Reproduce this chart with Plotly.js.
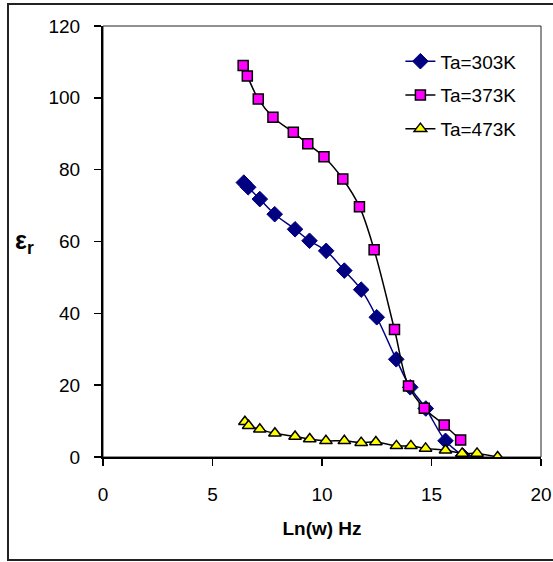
<!DOCTYPE html>
<html>
<head>
<meta charset="utf-8">
<script src="https://cdn.plot.ly/plotly-3.0.1.min.js"></script>
<style>html,body{margin:0;padding:0;background:#fff;}#chart{width:553px;height:562px;}</style>
</head>
<body>
<div id="chart"></div>
<script>
// Series names
var seriesNames = ["Ta=303K", "Ta=373K", "Ta=473K"];

// Ta = 303 K
var x303 = [6.43, 6.63, 7.16, 7.84, 8.77, 9.43, 10.19, 11.02, 11.79, 12.50, 13.39, 14.03, 14.74, 15.64, 16.44];
var y303 = [76.4, 75.1, 71.8, 67.6, 63.4, 60.2, 57.4, 51.9, 46.6, 38.9, 27.2, 19.4, 13.5, 4.5, 0.3];

// Ta = 373 K
var x373 = [6.40, 6.59, 7.09, 7.76, 8.69, 9.35, 10.09, 10.95, 11.71, 12.38, 13.31, 13.95, 14.67, 15.58, 16.33];
var y373 = [109.0, 106.1, 99.7, 94.6, 90.4, 87.2, 83.6, 77.4, 69.7, 57.7, 35.5, 19.8, 13.6, 8.9, 4.7];

// Ta = 473 K
var x473 = [6.48, 6.65, 7.16, 7.85, 8.77, 9.44, 10.18, 11.02, 11.79, 12.46, 13.40, 14.06, 14.73, 15.64, 16.40, 17.08, 18.02];
var y473 = [9.8, 8.7, 7.7, 6.6, 5.7, 5.0, 4.5, 4.5, 4.0, 4.2, 3.1, 3.1, 2.4, 1.9, 1.0, 1.0, 0.0];

// Axis ticks
var xTicks = [0, 5, 10, 15, 20];
var yTicks = [0, 20, 40, 60, 80, 100, 120];

var FONT = "Liberation Sans, Arial, sans-serif";

var traces = [
  {
    x: x303, y: y303, name: seriesNames[0], legendgroup: "a",
    type: "scatter", mode: "lines+markers",
    line: {color: "#000080", width: 1.5, shape: "spline"},
    marker: {symbol: "diamond", size: 12, color: "#000080", line: {color: "#000080", width: 1}}
  },
  {
    x: x373, y: y373, name: seriesNames[1], legendgroup: "b",
    type: "scatter", mode: "lines+markers",
    line: {color: "#000000", width: 1.5, shape: "spline"},
    marker: {symbol: "square", size: 10, color: "#ff00ff", line: {color: "#000000", width: 1.5}}
  },
  {
    x: x473, y: y473, name: seriesNames[2], legendgroup: "c",
    type: "scatter", mode: "lines+markers",
    line: {color: "#000000", width: 1.5, shape: "spline"},
    marker: {symbol: "triangle-up", size: 11, color: "#ffff00", line: {color: "#000000", width: 1.5}}
  }
];

var layout = {
  width: 553, height: 562,
  margin: {l: 103, r: 12, t: 26, b: 105, pad: 0},
  paper_bgcolor: "#ffffff", plot_bgcolor: "#ffffff",
  font: {family: FONT, size: 19, color: "#000"},
  showlegend: true,
  legend: {
    x: 0.679, y: 0.962, xanchor: "left", yanchor: "top",
    bgcolor: "rgba(255,255,255,0)", borderwidth: 0,
    font: {family: FONT, size: 19, color: "#000"},
    tracegroupgap: 6
  },
  xaxis: {
    range: [0, 20], tickvals: xTicks, ticktext: xTicks.map(String),
    showgrid: false, zeroline: false,
    showline: true, linecolor: "#000", linewidth: 2,
    ticks: "outside", ticklen: 7, tickwidth: 1.5, tickcolor: "#000",
    ticklabelstandoff: 12,
    tickfont: {family: FONT, size: 19, color: "#000"},
    title: {text: "<b>Ln(w) Hz</b>", font: {family: FONT, size: 19, color: "#000"}, standoff: 18}
  },
  yaxis: {
    range: [0, 120], tickvals: yTicks, ticktext: yTicks.map(String),
    showgrid: false, zeroline: false,
    showline: true, linecolor: "#000", linewidth: 2,
    ticks: "outside", ticklen: 7, tickwidth: 1.5, tickcolor: "#000",
    ticklabelstandoff: 10,
    tickfont: {family: FONT, size: 19, color: "#000"}
  },
  shapes: [
    {type: "rect", xref: "paper", yref: "paper", x0: 0, x1: 1, y0: 0, y1: 1,
     line: {color: "#222", width: 1}, layer: "below"},
    {type: "rect", xref: "paper", yref: "paper", x0: -0.2169, x1: 1.08, y0: -0.2390, y1: 1.0510,
     line: {color: "#222", width: 2}, layer: "below"}
  ],
  annotations: [
    {xref: "paper", yref: "paper", x: -0.18, y: 0.50, xanchor: "center", yanchor: "middle",
     showarrow: false, text: "<b>ε<sub>r</sub></b>", font: {family: FONT, size: 25, color: "#000"}}
  ]
};

Plotly.newPlot("chart", traces, layout, {displayModeBar: false, staticPlot: true});
</script>
</body>
</html>
